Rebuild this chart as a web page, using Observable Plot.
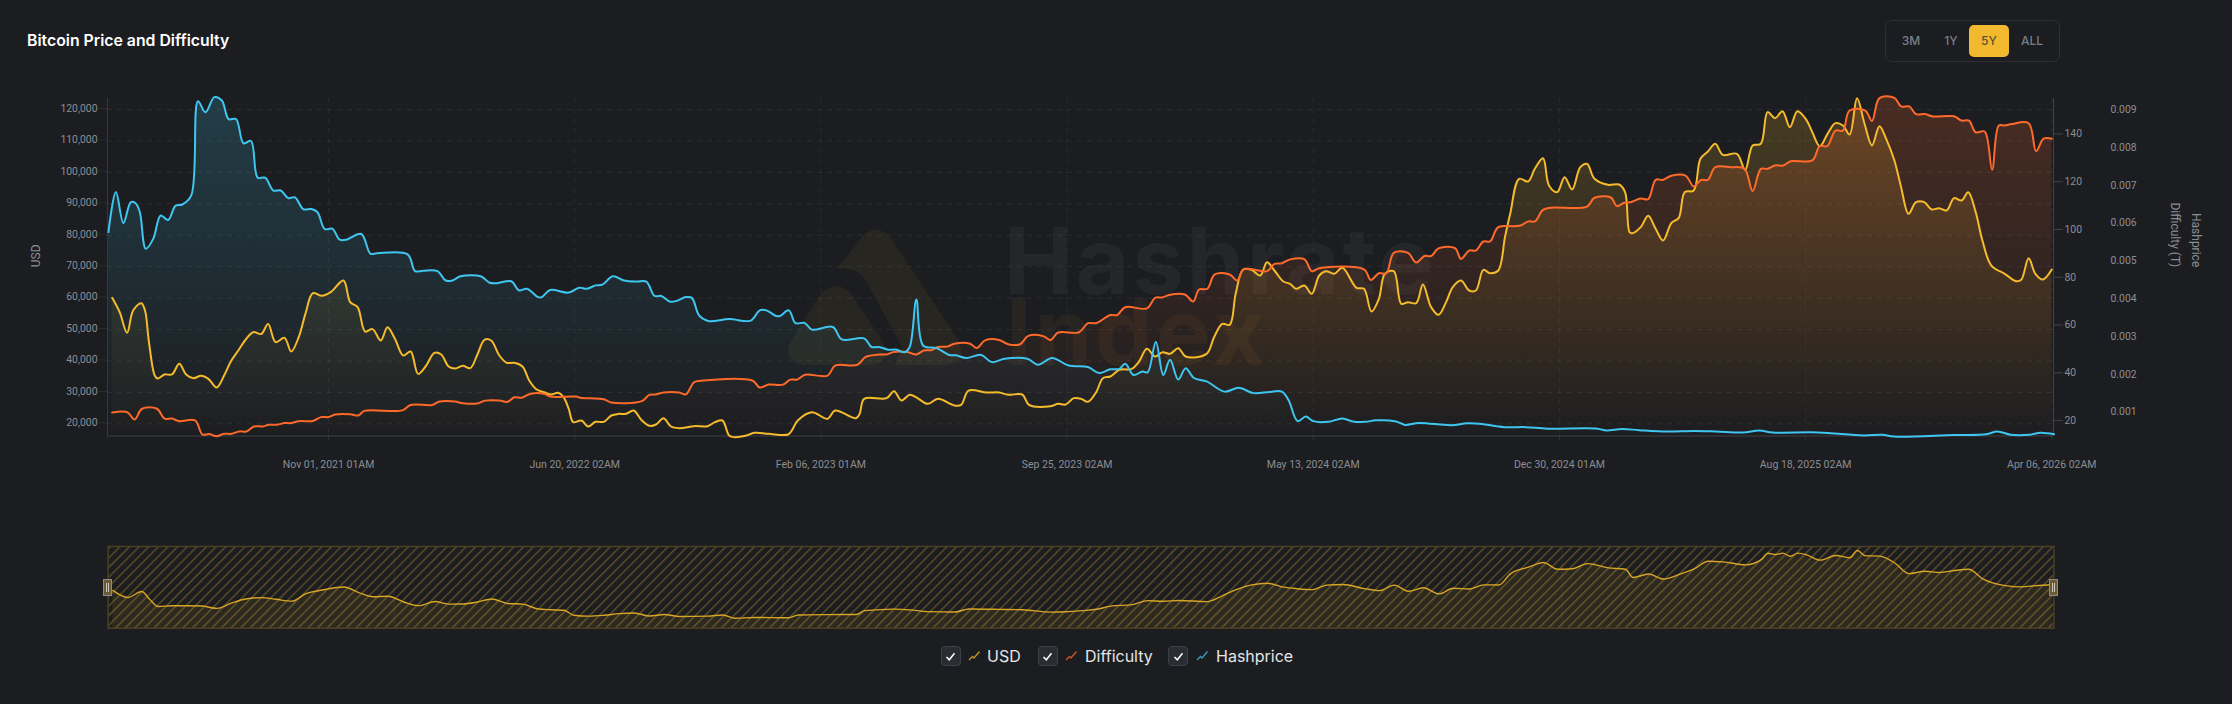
<!DOCTYPE html>
<html><head><meta charset="utf-8">
<script src="https://cdn.jsdelivr.net/npm/d3@7"></script>
<script src="https://cdn.jsdelivr.net/npm/@observablehq/plot@0.6"></script>
<style>
html,body{margin:0;padding:0;background:#1c1d20;}
#page{position:relative;width:2232px;height:704px;overflow:hidden;background:#1c1d20;font-family:Inter,sans-serif;}
#page>*{position:absolute;}
svg{overflow:visible;}
#title{left:27px;top:31px;color:#fff;font:600 15.8px/20px Inter,sans-serif;}
#range{left:1885px;top:20px;width:173px;height:40px;border:1px solid #2d2f34;border-radius:7px;}
.btn{position:absolute;transform:translate(-50%,-50%);font:500 12px/16px Inter,sans-serif;color:#7b7f87;top:20px;}
#active{position:absolute;left:83px;top:4px;width:40px;height:32px;border-radius:5px;background:#f3b92e;}
.handle{width:7px;height:15px;top:579px;background:#6b5a34;border:1px solid #8b8b88;}
.handle i{position:absolute;top:3px;bottom:3px;left:1.5px;width:1px;background:#c9c6ba;}
.handle i+i{left:4px;}
.check{top:646px;width:18px;height:18px;border:1px solid #3e4049;border-radius:4px;background:#2b2c33;}
.check svg{position:absolute;left:3.5px;top:3.5px;}
.lab{top:646px;font:400 16px/20px Inter,sans-serif;color:#e4e5e7;}
.icon{top:650px;}
#wm1,#wm2{font:700 92px/68px Inter,"Liberation Sans",sans-serif;letter-spacing:3px;}
#wm1{left:1004px;top:226.5px;color:rgba(255,255,255,.045);}
#wm2{left:1006px;top:298px;color:rgba(243,150,46,.06);}
</style></head>
<body><div id="page">
<svg id="logo" width="2232" height="704" style="left:0;top:0">
<path fill="rgba(243,185,46,.06)" d="M838 268 L862 237 Q875 222 890 237 L958 340 Q968 362 947 365 L895 365 L902 347 L867 283 Q860 268 838 268 Z"/>
<path fill="rgba(243,185,46,.06)" d="M820 295 Q837 277 852 295 L882 340 Q892 363 870 365 L803 365 Q782 361 790 343 Z"/>
</svg>
<div id="wm1">Hashrate</div>
<div id="wm2">Index</div>
<div id="chart" style="left:0;top:0"></div>
<div id="mini" style="left:0;top:530px"></div>
<div id="title">Bitcoin Price and Difficulty</div>
<div id="range"><div id="active"></div>
<span class="btn" style="left:25px">3M</span><span class="btn" style="left:65px">1Y</span><span class="btn" style="left:103px;color:#5d5233">5Y</span><span class="btn" style="left:146px">ALL</span></div>
<div class="handle" style="left:103px"><i></i><i></i></div>
<div class="handle" style="left:2049px"><i></i><i></i></div>
<div id="legend"></div>
</div>
<script>
const axisColor = "#8b8e94";
const usdColor = "#f5bb2d", difficultyColor = "#ff6a2b", hashpriceColor = "#3fc6f0";
const startDate = Date.UTC(2021, 3, 12);

// [weeks since the first date, value]
const usdPoints = [[0,60090],[1,55530],[2,48950],[2.8,56060],[3.9,58390],[4.4,56060],[4.9,46510],[5.7,35380],[6.1,34420],[7,35700],[8,35700],[9,39090],[9.9,35700],[10.9,34530],[11.9,35270],[12.9,34320],[14,31560],[15,35380],[15.9,39830],[16.9,43330],[17.8,46510],[18.9,49160],[20,48630],[20.9,51800],[21.9,45980],[23.1,47360],[24,43010],[25,47570],[25.9,55000],[26.9,61570],[28.1,60720],[29.3,61890],[31,65600],[31.9,58710],[32.9,57120],[33.9,49370],[34.9,50120],[36,46510],[36.9,50750],[37.9,47040],[39,41740],[40,43010],[41,35900],[42,38240],[43.2,42590],[44.1,42060],[45.1,38240],[46,37600],[47,38450],[48,37710],[48.9,41740],[49.9,46720],[50.8,46510],[51.9,41740],[52.9,39410],[53.9,39410],[55,38240],[55.9,33790],[56.9,30920],[58,29970],[58.8,29330],[59.8,29860],[60.5,28480],[61.2,24770],[61.8,20530],[62.9,21060],[63.8,19150],[64.8,20640],[65.9,20640],[66.9,22650],[67.9,23180],[68.9,23180],[69.9,24240],[71,21060],[72,19360],[72.9,19790],[73.9,21800],[74.9,19150],[76,18620],[78,19260],[79.8,19260],[80.8,20530],[81.8,21060],[82.7,16290],[83.4,15760],[84.9,16180],[86.1,17140],[88,16820],[90.6,16610],[91.1,17880],[91.9,21060],[93.8,23710],[95.9,21590],[96.9,24240],[99.7,21800],[100.2,23180],[100.8,27950],[103.8,28170],[104.8,30390],[105.8,27420],[106.9,29230],[107.9,28270],[109.3,26360],[110.7,27950],[112.9,25830],[113.8,26040],[114.8,30600],[117.2,29970],[118.9,29970],[120.1,29230],[122,29330],[122.9,26040],[125.8,25620],[126.8,26360],[127.8,26150],[128.9,28170],[129.9,27950],[130.8,27000],[131.9,30070],[132.8,34530],[133.8,35060],[135,37180],[136.7,37500],[137.6,39620],[138.7,43860],[139.8,41420],[140.8,42800],[141.8,42270],[142.9,44070],[143.9,41420],[146.7,42270],[147.7,47570],[148.8,51820],[149.8,51500],[150.6,61360],[151.6,69100],[152.7,69000],[153.9,67190],[154.8,71430],[155.8,68780],[157,65280],[157.9,64540],[158.7,62950],[159.8,64010],[160.8,61360],[161.8,67190],[162.7,68570],[163.8,67720],[164.9,69630],[166.8,63270],[167.8,62950],[168.8,55740],[169.8,59770],[170.6,67720],[171.8,68570],[172.8,58180],[173.7,58710],[174.8,58390],[175.7,64330],[176.8,57120],[177.8,54680],[178.8,58710],[179.7,63480],[180.8,65600],[181.9,62420],[182.8,62420],[183.8,68990],[184.7,67930],[185.8,68780],[186.7,79390],[187.4,86810],[188.6,97950],[189.8,97100],[190.7,101130],[191.8,104520],[192.6,95830],[193.7,93710],[194.7,98480],[195.7,94550],[196.8,101660],[197.7,102720],[198.7,97950],[200.5,96040],[202,96140],[202.8,93710],[203.4,80980],[203.8,80660],[204.9,82570],[205.9,86170],[206.9,82040],[207.9,78330],[209,83840],[210,85540],[210.8,93710],[212,94240],[212.9,104310],[213.9,106640],[214.9,109080],[215.9,105580],[217.8,105900],[218.9,100810],[219.9,108550],[221,109080],[221.9,119160],[222.9,117250],[223.9,119470],[224.9,114380],[225.9,119470],[227.1,116720],[227.9,112790],[228.9,108340],[230,112480],[231,115660],[232,114920],[232.9,112050],[233.9,123610],[234.9,115450],[235.9,108550],[236.9,114700],[237.8,110670],[238.9,103780],[239.8,95300],[240.8,86810],[241.8,90520],[242.9,90520],[243.9,88190],[244.9,88610],[245.9,87870],[246.9,91800],[247.9,91050],[248.8,93710],[249.8,87340],[250.7,78330],[251.9,70370],[253.7,67720],[255.2,65390],[255.9,65810],[256.9,72710],[257.8,67720],[258.8,65920],[260,69100]];

const difficultyPoints = [[0,23.6],[2,23.8],[3,20.7],[4,25.2],[6,25.2],[7,21.1],[8,21.1],[9,20],[11.1,20.3],[12.1,14.4],[13,14.6],[14,13.7],[15,14.7],[16,14.7],[17,15.7],[18,15.7],[19,17.8],[20.2,17.8],[21,18.5],[22.1,18.5],[23.1,19.2],[24,19.2],[25,20],[26.9,20.1],[28,21.7],[29,21.7],[29.9,22.8],[31.9,22.9],[33,22.4],[33.8,24.3],[38.9,24.5],[40,26.8],[42.9,26.8],[43.9,28.2],[46,28.2],[47,27.5],[48.9,27.4],[50,28.6],[51.9,28.6],[53,28.1],[53.9,30],[54.9,29.8],[56,31.4],[58,31.4],[58.7,30.3],[62.2,30.3],[62.7,29.8],[66,29.1],[66.9,27.8],[71,28.4],[72,31],[72.9,31.2],[73.9,32],[76,32],[76.9,31.2],[78,36.3],[78.9,36.9],[85.8,37],[86.8,34.1],[88,35.3],[89.9,35.3],[90.9,37.4],[91.8,37.4],[92.9,39.4],[95.9,39.1],[96.9,43.2],[99.9,43.6],[101,46.9],[102.8,47.9],[103.8,47.9],[104.7,48.9],[106.6,48.9],[107.8,47.9],[108.8,49.6],[109.8,49.7],[110.7,51],[111.9,51.2],[112.9,52.4],[115,52.4],[115.9,50.6],[117,53.8],[118.9,54],[120.1,52.2],[121.7,52.2],[122.8,55.7],[124.8,55.6],[125.8,54],[126.8,57.1],[129.6,57.2],[130.8,61],[131.9,61],[133.8,64.4],[134.7,64.4],[135.8,67.7],[138.7,67.2],[139.8,71.6],[140.8,71.8],[141.8,72.9],[143.8,73],[144.9,70.1],[145.7,75.1],[146.8,75.4],[147.8,81.4],[149.8,81.4],[150.8,78.9],[151.7,83.6],[154.8,82.8],[155.8,85.8],[156.8,86.1],[157.9,87.7],[159.8,87.8],[160.8,82.8],[161.8,84],[167.8,83.5],[168.7,79.1],[169.8,81.9],[170.8,81.9],[171.8,90.4],[173.7,90.4],[174.8,86.4],[175.9,89.1],[176.8,89.1],[177.8,92.3],[180,92.4],[180.8,87.9],[181.9,91.4],[182.8,91.4],[183.8,95.2],[184.7,95.2],[185.8,101.2],[187.9,101.6],[188.8,101.9],[189.8,103.6],[190.7,103.6],[191.8,108.4],[192.8,109.3],[197.7,109.8],[198.7,113.5],[200.9,113.6],[201.7,110],[202.7,111.4],[203.6,111.7],[204.9,113.2],[205.9,112.9],[206.9,121],[207.9,121],[209,122.7],[210.9,122.8],[212,118.2],[213,121],[213.9,121],[214.9,126.3],[217,126.3],[218.8,125.6],[219.9,116.3],[221,125.6],[221.9,125.6],[222.9,127],[224,127],[225,128.8],[227.9,129.1],[228.9,135.1],[229.9,135.1],[231,141.6],[232,141.6],[232.9,150],[235,150],[235.9,145.6],[236.9,155.2],[238.9,155.3],[239.8,151.7],[240.9,151.7],[241.8,148.5],[243,148.5],[244.1,147.5],[246.9,147.6],[247.9,145.8],[248.9,145.8],[249.8,140.9],[251,141.2],[252,125.2],[252.9,143.7],[253.7,143.7],[254.7,144.4],[256.9,144.7],[257.9,133],[258.9,138.2],[260,138.2]];

const hashpricePoints = [[-0.5,5.79],[0.5,6.85],[1.5,6.03],[2.5,6.58],[3.1,6.56],[3.7,6.32],[4.5,5.35],[5.5,5.61],[6.5,6.23],[7.5,6.11],[8.5,6.49],[9.4,6.52],[10.6,6.76],[11.5,9.25],[12.5,8.96],[13.7,9.36],[14.7,9.27],[15.6,8.78],[16.6,8.78],[17.6,8.14],[18.6,8.2],[19.5,7.23],[20.5,7.23],[21.6,6.89],[22.6,6.89],[23.6,6.69],[24.5,6.71],[25.6,6.4],[26.7,6.4],[27.5,6.32],[28.5,5.87],[29.5,5.88],[30.5,5.59],[31.4,5.59],[33.4,5.74],[34.6,5.22],[35.5,5.23],[39.6,5.2],[40.6,4.76],[41.7,4.77],[43.6,4.76],[44.7,4.51],[45.6,4.51],[46.7,4.62],[49.4,4.62],[50.6,4.45],[51.6,4.44],[53.5,4.49],[54.5,4.25],[55.6,4.29],[57.1,4.07],[57.6,4.07],[58.7,4.26],[61.2,4.19],[62.6,4.32],[63.6,4.29],[64.8,4.38],[65.7,4.4],[67.1,4.62],[68.6,4.51],[70.3,4.48],[71.6,4.48],[72.7,4.1],[73.6,4.1],[74.8,3.95],[75.8,3.98],[76.9,4.07],[77.7,4.05],[78.7,3.58],[79.9,3.44],[82.7,3.49],[85.6,3.45],[86.8,3.72],[87.7,3.72],[89,3.57],[89.5,3.57],[90.7,3.72],[91.6,3.38],[92.8,3.39],[93.8,3.21],[96.6,3.28],[97.8,2.95],[100.8,2.98],[101.8,2.75],[102.8,2.75],[104,2.68],[105.2,2.68],[106.2,2.61],[106.9,2.75],[107.8,4.01],[108.7,2.79],[110.5,2.72],[112.2,2.54],[113.1,2.53],[114.5,2.46],[116.5,2.54],[117.9,2.35],[119.6,2.44],[122.7,2.44],[124.1,2.28],[126,2.46],[128.2,2.26],[130.8,2.22],[132.3,2.06],[133.8,2.16],[135,2.17],[135.8,2.31],[136.9,2.01],[138.1,2.1],[138.8,2.08],[139.9,2.88],[140.9,2.01],[141.8,2.41],[142.9,1.89],[143.9,2.19],[145,1.93],[146.7,1.84],[149.1,1.57],[151,1.67],[153,1.53],[155.1,1.56],[156.8,1.57],[157.7,1.34],[158.9,0.79],[160,0.91],[161,0.79],[163,0.77],[164.9,0.86],[166.3,0.78],[168,0.77],[169.4,0.81],[172.1,0.78],[173.3,0.69],[175.2,0.74],[179.5,0.68],[181.6,0.73],[183.3,0.72],[186.6,0.63],[189.5,0.63],[192.4,0.59],[199.1,0.59],[200.3,0.54],[202.4,0.58],[204.7,0.55],[208.4,0.515],[212,0.53],[215,0.515],[218.6,0.49],[220.8,0.54],[222.6,0.49],[228.7,0.49],[234.8,0.41],[237.3,0.43],[238.8,0.38],[246.9,0.42],[251.2,0.44],[252.7,0.515],[254.5,0.43],[257,0.43],[258.5,0.48],[260.3,0.44]];

const usdTicks = [20000,30000,40000,50000,60000,70000,80000,90000,100000,110000,120000];
const difficultyTicks = [20,40,60,80,100,120,140];
const hashpriceTicks = [1,2,3,4,5,6,7,8,9];
const timeTicks = [29,62,95,128,161,194,227,260];
const timeLabels = ["Nov 01, 2021 01AM","Jun 20, 2022 02AM","Feb 06, 2023 01AM","Sep 25, 2023 02AM","May 13, 2024 02AM","Dec 30, 2024 01AM","Aug 18, 2025 02AM","Apr 06, 2026 02AM"];
const yearLines = ["2022-01-01","2023-01-01","2024-01-01","2025-01-01","2026-01-01"];
const legendItems = [["USD",usdColor,940.5],["Difficulty",difficultyColor,1037.5],["Hashprice",hashpriceColor,1168]];

const dateOf = w => new Date(startDate + w * 7 * 864e5);
const uFromD = d3.scaleLinear().domain([20,140]).range([20848,112072]);
const uFromH = d3.scaleLinear().domain([1,9]).range([23394,119602]);
const dFromU = uFromD.invert, hFromU = uFromH.invert;
const usd = usdPoints.map(([w,v]) => ({date:dateOf(w), y:v}));
const difficulty = difficultyPoints.map(([w,v]) => ({date:dateOf(w), y:uFromD(v)}));
const hashprice = hashpricePoints.map(([w,v]) => ({date:dateOf(w), y:uFromH(v)}));
const usdOverview = usd.filter((d,i) => i % 2 === 0 || d.y > 119000);

const uBottom = 16130, uTop = 123500;
const xDomain = [dateOf(-0.63), dateOf(260.23)];
const curve = "catmull-rom";

const defs = html => () => { const g = d3.create("svg:defs").html(html); return g.node(); };
const grad = (id,c,a) => `<linearGradient id="${id}" x1="0" y1="0" x2="0" y2="1"><stop offset="0" stop-color="${c}" stop-opacity="${a}"/><stop offset="1" stop-color="${c}" stop-opacity="0"/></linearGradient>`;

const series = [[usd,usdColor,"gU"],[difficulty,difficultyColor,"gD"],[hashprice,hashpriceColor,"gH"]];
const tick = {fontFamily:"Roboto, sans-serif", fontSize:10.4};

const main = Plot.plot({
  width:2232, height:490,
  marginLeft:107, marginRight:179, marginTop:98, marginBottom:54.5,
  style:{background:"transparent", overflow:"visible", fontFamily:"Roboto, sans-serif"},
  x:{type:"utc", domain:xDomain},
  y:{domain:[uBottom,uTop]},
  marks:[
    defs(grad("gU",usdColor,.2)+grad("gD",difficultyColor,.2)+grad("gH",hashpriceColor,.19)),
    Plot.gridY(usdTicks,{stroke:"#fff",strokeOpacity:.07,strokeDasharray:"5,5"}),
    Plot.axisX(timeTicks.map(dateOf),{tickSize:8,tickPadding:16.5,stroke:"#fff",strokeOpacity:.08,strokeDasharray:"5,5",fill:axisColor,label:null,
      tickFormat:(d,i)=>timeLabels[i],...tick,fontSize:10.5}),
    Plot.gridX(timeTicks.map(dateOf),{stroke:"#fff",strokeOpacity:.06,strokeDasharray:"5,5"}),
    Plot.axisY(usdTicks,{anchor:"left",tickSize:9,tickPadding:1,stroke:"#fff",strokeOpacity:.07,fill:axisColor,label:null,dy:-1,
      tickFormat:d3.format(","),...tick}),
    Plot.axisY(difficultyTicks.map(uFromD),{anchor:"right",tickSize:9,tickPadding:2,stroke:"#fff",strokeOpacity:.17,fill:axisColor,label:null,dy:-0.5,
      tickFormat:u=>Math.round(dFromU(u)),...tick}),
    Plot.axisY(hashpriceTicks.map(uFromH),{anchor:"right",tickSize:0,tickPadding:57,stroke:"none",fill:axisColor,label:null,dy:-1,
      tickFormat:u=>(hFromU(u)/1000).toFixed(3),...tick}),
    Plot.ruleX([xDomain[0]],{stroke:"#fff",strokeOpacity:.12}),
    Plot.ruleX([xDomain[1]],{stroke:"#fff",strokeOpacity:.17}),
    Plot.ruleY([uBottom],{stroke:"#fff",strokeOpacity:.17}),
    ...series.map(([data,c,g]) => Plot.areaY(data,{x:"date",y1:()=>uBottom,y2:"y",fill:`url(#${g})`,curve})),
    ...series.map(([data,c]) => Plot.lineY(data,{x:"date",y:"y",stroke:c,strokeWidth:2,curve})),
    Plot.text(["USD"],{frameAnchor:"left",dx:-71,rotate:-90,fill:axisColor,fontSize:12}),
    Plot.text(["Difficulty (T)"],{frameAnchor:"right",dx:121,rotate:90,fill:axisColor,fontSize:12}),
    Plot.text(["Hashprice"],{frameAnchor:"right",dx:142,rotate:90,fill:axisColor,fontSize:12})
  ]
});
document.getElementById("chart").append(main);

const mini = Plot.plot({
  width:2232, height:104,
  marginLeft:107.6, marginRight:178.6, marginTop:16, marginBottom:6.3,
  style:{background:"transparent", overflow:"visible"},
  x:{type:"utc", domain:xDomain, axis:null},
  y:{domain:[0,130000], axis:null},
  marks:[
    defs(`<pattern id="hatch" width="6.8" height="9" patternUnits="userSpaceOnUse" patternTransform="rotate(45)"><rect width="1.3" height="9" x="0" fill="${usdColor}" fill-opacity=".33"/></pattern>`),
    Plot.frame({fill:"url(#hatch)"}),
    Plot.areaY(usdOverview,{x:"date",y1:()=>0,y2:"y",fill:usdColor,fillOpacity:.08,curve:"monotone-x"}),
    Plot.ruleX(yearLines.map(d=>new Date(d)),{stroke:"#fff",strokeOpacity:.06}),
    Plot.lineY(usdOverview,{x:"date",y:"y",stroke:"#d9a526",strokeWidth:1.4,curve:"monotone-x"}),
    Plot.frame({stroke:"#4a4024",strokeWidth:1.5})
  ]
});
document.getElementById("mini").append(mini);

const page = document.getElementById("page");
const textW = {USD:46.5, Difficulty:47.5, Hashprice:48};
for (const [name,c,x] of legendItems) {
  const box = document.createElement("div");
  box.className = "check"; box.style.left = x + "px";
  box.innerHTML = `<svg width="11" height="11" viewBox="0 0 11 11"><path d="M1.5 6 L4.3 8.8 L9.5 2.2" fill="none" stroke="#fff" stroke-width="1.5"/></svg>`;
  page.append(box);
  const icon = document.createElementNS("http://www.w3.org/2000/svg","svg");
  icon.setAttribute("width",11); icon.setAttribute("height",11); icon.setAttribute("class","icon");
  icon.style.left = (x + 28.5) + "px";
  icon.innerHTML = `<path d="M0 10 L3.5 6.5 L5 8 L10.5 1.5" fill="none" stroke="${c}" stroke-opacity=".75" stroke-width="1.4"/>`;
  page.append(icon);
  const t = document.createElement("div");
  t.className = "lab"; t.textContent = name; t.style.left = (x + textW[name]) + "px";
  page.append(t);
}
</script>
</body></html>
